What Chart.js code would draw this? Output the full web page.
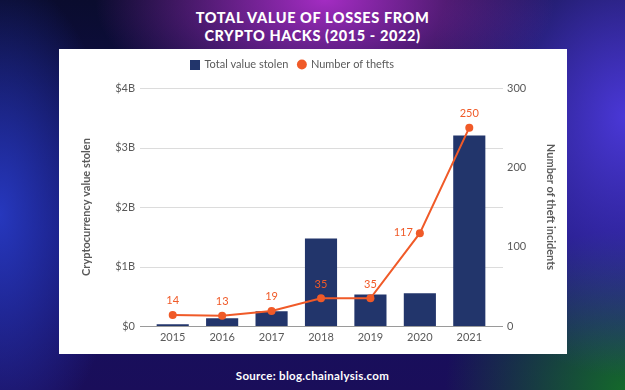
<!DOCTYPE html>
<html>
<head>
<meta charset="utf-8">
<script src="https://cdn.jsdelivr.net/npm/chart.js@4/dist/chart.umd.min.js"></script>
<style>
html,body{margin:0;padding:0;}
body{
width:625px;height:390px;overflow:hidden;position:relative;font-family:Lato,sans-serif;
background:
radial-gradient(ellipse 230px 120px at 52% 0%, rgba(190,50,220,0.85), rgba(190,50,220,0) 100%),
radial-gradient(ellipse 200px 260px at 100% 30%, rgba(80,60,230,0.9), rgba(80,60,230,0) 100%),
radial-gradient(ellipse 180px 160px at 100% 100%, rgba(20,110,40,0.95), rgba(20,110,40,0) 100%),
radial-gradient(ellipse 120px 240px at 0% 55%, rgba(40,60,200,0.9), rgba(40,60,200,0) 100%),
linear-gradient(180deg,#0a0c2e 0%,#141060 60%,#1a0e5a 100%);
}
#title{position:absolute;left:0;top:9px;width:625px;text-align:center;color:#fff;font-weight:900;font-size:14.5px;line-height:18px;letter-spacing:0.6px;}
#panel{position:absolute;left:59px;top:49px;width:508px;height:305px;background:#fff;}
#source{position:absolute;left:0;top:369px;width:625px;text-align:center;color:#fff;font-size:11.5px;font-weight:700;letter-spacing:0.3px;}
</style>
</head>
<body>
<div id="title">TOTAL VALUE OF LOSSES FROM<br>CRYPTO HACKS (2015 - 2022)</div>
<div id="panel"><canvas id="lossChart" width="508" height="305"></canvas></div>
<div id="source">Source: blog.chainalysis.com</div>
<script>
const years=["2015","2016","2017","2018","2019","2020","2021"];
const valueStolen=[0.03e9,0.13e9,0.25e9,1.47e9,0.53e9,0.55e9,3.2e9];
const theftCount=[14,13,19,35,35,117,250];
const valueTicks=[0,1e9,2e9,3e9,4e9];
const countTicks=[0,100,200,300];

const navy="#22356b";
const orange="#f05a28";
const grey="#5a5a5a";

// square legend marker for the bars
let barSwatch=document.createElement("canvas");
barSwatch.width=10;
barSwatch.height=10;
let sctx=barSwatch.getContext("2d");
sctx.fillStyle=navy;
sctx.fillRect(0,0,10,10);

// grid lines drawn a little past the plot on both sides
const gridPlugin={
id:"gridLines",
beforeDatasetsDraw(chart){
let c=chart.ctx;
let a=chart.chartArea;
let s=chart.scales.y;
c.save();
s.ticks.forEach(t=>{
let y=Math.round(s.getPixelForValue(t.value))+0.5;
c.strokeStyle=t.value===0?"#9a9a9a":"#dcdcdc";
c.lineWidth=1;
c.beginPath();
c.moveTo(a.left-8,y);
c.lineTo(a.right+9,y);
c.stroke();
});
c.restore();
}
};

const leftLabels=[5];

const labelPlugin={
id:"pointLabels",
afterDatasetsDraw(chart){
let c=chart.ctx;
let meta=chart.getDatasetMeta(1);
c.save();
c.fillStyle=orange;
c.font="11px Lato";
meta.data.forEach((p,i)=>{
if(leftLabels.includes(i)){
c.textAlign="right";
c.textBaseline="middle";
c.fillText(theftCount[i],p.x-7,p.y-1);
}else{
c.textAlign="center";
c.textBaseline="middle";
c.fillText(theftCount[i],p.x,p.y-14);
}
});
c.restore();
}
};

// legend sits a bit left of centre, with extra room below it
const legendTweak={
id:"legendTweak",
beforeUpdate(chart){
let l=chart.legend;
if(l && !l._tweaked){
let fit=l.fit.bind(l);
l.fit=function(){fit();this.height+=8;};
l._tweaked=true;
}
},
afterLayout(chart){
chart.legend.right-=40;
}
};

new Chart(document.getElementById("lossChart"),{
data:{
labels:years,
datasets:[
{
type:"bar",
label:"Total value stolen",
data:valueStolen,
backgroundColor:navy,
yAxisID:"y",
barPercentage:0.65,
categoryPercentage:1,
pointStyle:barSwatch,
order:2
},
{
type:"line",
label:"Number of thefts",
data:theftCount,
borderColor:orange,
backgroundColor:orange,
borderWidth:2,
pointRadius:4,
pointBorderWidth:0,
pointStyle:"circle",
tension:0,
yAxisID:"y1",
order:1
}
]
},
options:{
responsive:false,
animation:false,
layout:{padding:{top:0,left:0,right:0,bottom:0}},
plugins:{
legend:{
position:"top",
labels:{
usePointStyle:true,
boxWidth:7,
boxHeight:7,
padding:10,
color:grey,
font:{family:"Lato",size:11},
sort:(a,b)=>a.datasetIndex-b.datasetIndex
}
},
tooltip:{enabled:false}
},
scales:{
x:{
grid:{display:false,drawTicks:false},
border:{display:false},
ticks:{color:grey,font:{family:"Lato",size:11},padding:5},
afterFit:s=>{s.height=28;}
},
y:{
position:"left",
min:0,
max:4e9,
afterBuildTicks:s=>{s.ticks=valueTicks.map(v=>({value:v}));},
grid:{display:false,drawTicks:false},
border:{display:false},
ticks:{
color:grey,
font:{family:"Lato",size:11},
padding:13,
callback:v=>"$"+(v/1e9)+(v===0?"":"B")
},
title:{display:true,text:"Cryptocurrency value stolen",color:grey,padding:{top:21,bottom:4},font:{family:"Lato",size:11,weight:"bold"}},
afterFit:s=>{s.width=89;}
},
y1:{
position:"right",
min:0,
max:300,
afterBuildTicks:s=>{s.ticks=countTicks.map(v=>({value:v}));},
grid:{display:false,drawTicks:false},
border:{display:false},
ticks:{color:grey,font:{family:"Lato",size:11},padding:13},
title:{display:true,text:"Number of theft incidents",color:grey,padding:{top:10,bottom:4},font:{family:"Lato",size:11,weight:"bold"}},
afterFit:s=>{s.width=73;}
}
}
},
plugins:[gridPlugin,labelPlugin,legendTweak]
});
</script>
</body>
</html>
